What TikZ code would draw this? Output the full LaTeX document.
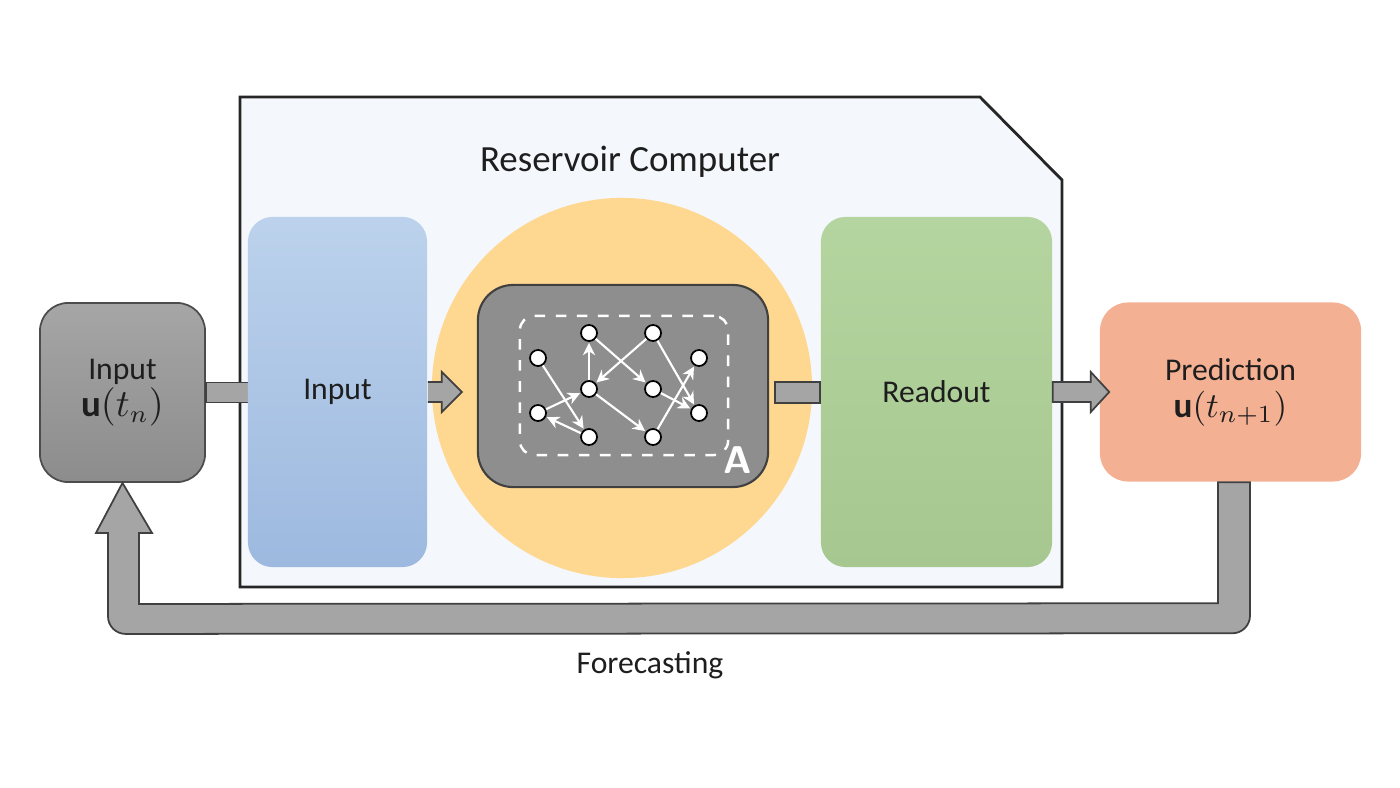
\documentclass[tikz,border=0pt]{standalone}
\usepackage{fontspec}
\setmainfont{Carlito}
\usepackage{tikz}
\usetikzlibrary{shapes,arrows.meta,positioning,calc}

\definecolor{panelfill}{HTML}{F4F7FB}
\definecolor{poolorange}{HTML}{FED891}
\definecolor{resgray}{HTML}{8E8E8E}
\definecolor{arrowgray}{HTML}{A5A5A5}
\definecolor{predsalmon}{HTML}{F4B093}
\definecolor{textdark}{HTML}{1E1E1E}
\definecolor{bluetop}{HTML}{BCD2EC}
\definecolor{bluebot}{HTML}{9DB9DF}
\definecolor{greentop}{HTML}{B5D5A0}
\definecolor{greenbot}{HTML}{A7C790}

\begin{document}
\begin{tikzpicture}[
    x=0.01cm, y=-0.01cm,
    font=\fontsize{9}{10.5}\selectfont,
    every node/.style={text=textdark},
    block/.style={rectangle, rounded corners=7pt, align=center, minimum width=1.79cm, minimum height=3.5cm},
    endbox/.style={rectangle, rounded corners=8pt, align=center, minimum height=1.79cm},
    neuron/.style={draw=black, fill=white, circle, inner sep=0pt, minimum size=0.16cm, line width=0.5pt},
    link/.style={draw=white, line width=0.6pt, -{Stealth[length=3.5pt,width=3.5pt]}, shorten >=0.3pt},
    flow/.style={draw=black!75, fill=arrowgray, line width=0.5pt}
]
    \useasboundingbox (0,0) rectangle (1400,788);

    % reservoir computer panel
    \draw[fill=panelfill, draw=black!85, line width=0.8pt]
        (240,97) -- (980,97) -- (1062,180) -- (1062,587) -- (240,587) -- cycle;
    \node[font=\fontsize{10.5}{12}\selectfont] (title) at (630,162) {Reservoir Computer};

    \node[circle, fill=poolorange, minimum size=3.8cm] (pool) at (622,388) {};

    % left input box and bar into the input layer
    \node[endbox, minimum width=1.65cm, top color=black!35, bottom color=black!45, draw=black!70, line width=0.5pt]
        (inbox) at (122.5,392.5) {Input\\\fontsize{10.5}{10.5}\selectfont$\mathbf{u}(t_n)$};
    \draw[flow] ($(inbox.east)+(0,-10)$) rectangle ($(inbox.east)+(45,10)$);

    \node[block, top color=bluetop, bottom color=bluebot] (inlayer) at (337.5,392) {Input};
    \node[block, minimum width=2.31cm, top color=greentop, bottom color=greenbot] (readout) at (936.5,392) {Readout};

    % reservoir
    \node[rectangle, rounded corners=10pt, fill=resgray, draw=black!75, line width=0.6pt,
          minimum width=2.9cm, minimum height=2.02cm] (res) at (623,386) {};
    \node[rectangle, rounded corners=4pt, draw=white, dashed, line width=0.7pt,
          minimum width=2.08cm, minimum height=1.39cm] (inner) at (624,385.5) {};
    \node[text=white, font=\sffamily\bfseries\fontsize{11}{12}\selectfont] (amat) at (738,460) {A};

    \foreach \name/\pos in {n1/{(538,358)}, n2/{(589,333)}, n3/{(653,333)}, n4/{(699,358)},
                            n5/{(589,389)}, n6/{(653,389)}, n7/{(538,413)}, n8/{(699,413)},
                            n9/{(589,437)}, n10/{(653,437)}}
        \node[neuron] (\name) at \pos {};
    \foreach \a/\b in {n1/n9, n5/n2, n2/n6, n3/n5, n3/n8, n7/n5, n9/n7, n5/n10, n6/n8, n10/n4}
        \draw[link] (\a) -- (\b);

    % prediction box
    \node[endbox, minimum width=2.61cm, fill=predsalmon]
        (pred) at (1230.5,392) {Prediction\\\fontsize{10}{10.5}\selectfont$\mathbf{u}(t_{n+1})$};

    % block arrows
    \draw[flow] ($(inlayer.east)+(0,-10)$) -- ++(14,0) -- ++(0,-10) -- ($(inlayer.east)+(34,0)$)
        -- ($(inlayer.east)+(14,20)$) -- ++(0,-10) -- ($(inlayer.east)+(0,10)$);
    \draw[flow] ($(res.east)+(6,-4)$) rectangle ($(readout.west)+(0,11)$);
    \draw[flow] ($(readout.east)+(0,-10)$) -- ++(38,0) -- ++(0,-10) -- ($(pred.west)+(10,0)$)
        -- ($(readout.east)+(38,20)$) -- ++(0,-10) -- ($(readout.east)+(0,10)$) -- cycle;

    % forecasting loop
    \draw[flow] ($(pred.south)+(-12.5,0)$) -- ($(pred.south)+(-12.5,121)$)
        -- ($(inbox.south)+(16.5,121)$) -- ($(inbox.south)+(16.5,50)$)
        -- ($(inbox.south)+(29.5,50)$) -- (inbox.south) -- ($(inbox.south)+(-26.5,50)$)
        -- ($(inbox.south)+(-14.5,50)$) [rounded corners=5pt] -- ($(inbox.south)+(-14.5,151)$)
        -- ($(pred.south)+(19.5,151)$) [sharp corners] -- ($(pred.south)+(19.5,0)$) -- cycle;
    \node (fcast) at (650,665) {Forecasting};
\end{tikzpicture}
\end{document}
